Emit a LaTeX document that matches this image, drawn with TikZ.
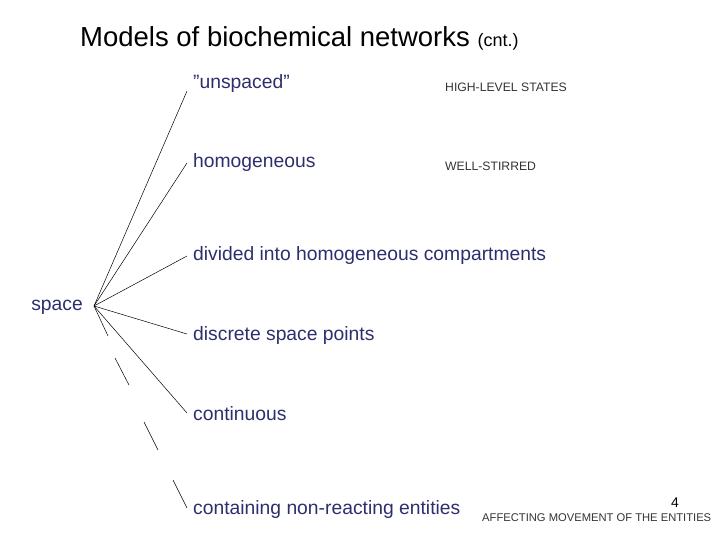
\documentclass[tikz,border=0pt]{standalone}
\usepackage{fontspec}
\setmainfont{Liberation Sans}
\begin{document}
\begin{tikzpicture}[x=1pt,y=-1pt,
  lab/.style={anchor=west,inner sep=0pt,text=navy,font=\fontsize{19.3}{22}\selectfont},
  small/.style={anchor=west,inner sep=0pt,text=black!80,font=\fontsize{12.2}{14}\selectfont},
  ln/.style={draw=black,line width=0.5pt}]
\definecolor{navy}{RGB}{46,46,110}
\useasboundingbox (0,0) rectangle (720,540);
\node[anchor=west,inner sep=0pt,font=\fontsize{27.5}{32}\selectfont] (title) at (80,38) {Models of biochemical networks {\fontsize{18}{20}\selectfont (cnt.)}};
\node[lab,anchor=east] (sp) at (83,307) {space};
\coordinate (h) at (94,306);
\node[lab] (a) at (193,84) {''unspaced''};
\node[lab] (b) at (193,163) {homogeneous};
\node[lab] (c) at (193,256) {divided into homogeneous compartments};
\node[lab] (d) at (193,336) {discrete space points};
\node[lab] (e) at (193,414) {continuous};
\node[lab] (f) at (193,510) {containing non-reacting entities};
\node[small] (a2) at (445,87) {HIGH-LEVEL STATES};
\node[small] (b2) at (445,166) {WELL-STIRRED};
\node[small,font=\fontsize{11.2}{13}\selectfont] (f2) at (482,518) {AFFECTING MOVEMENT OF THE ENTITIES};
\node[anchor=east,inner sep=0pt,font=\fontsize{14}{16}\selectfont] (num) at (679,503) {4};
\coordinate (a0) at (187,91);
\coordinate (b0) at (187,163);
\coordinate (c0) at (187,256);
\coordinate (d0) at (187,334);
\coordinate (e0) at (187,413);
\draw[ln] (h) -- (a0);
\draw[ln] (h) -- (b0);
\draw[ln] (h) -- (c0);
\draw[ln] (h) -- (d0);
\draw[ln] (h) -- (e0);
\draw[ln] (h) -- (108,336);
\draw[ln] (115,358) -- (129,385);
\draw[ln] (144,422) -- (158,450);
\draw[ln] (173,480) -- (187,508);
\end{tikzpicture}
\end{document}
